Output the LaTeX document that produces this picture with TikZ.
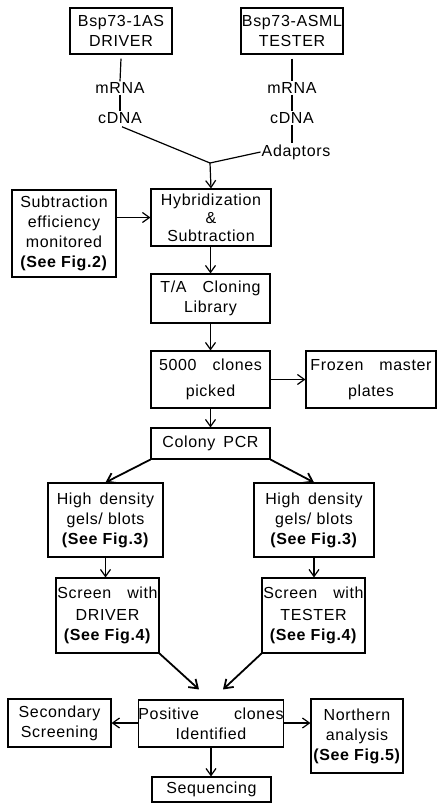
\documentclass[tikz,border=0pt]{standalone}
\usepackage{fontspec}
\setmainfont[LetterSpace=4]{Liberation Sans}
\usetikzlibrary{arrows.meta,calc}
\begin{document}
\begin{tikzpicture}[x=1pt,y=-1pt,
  box/.style={draw, line width=1.1pt, align=center, inner sep=0pt, font=\fontsize{16}{20}\selectfont},
  lbl/.style={inner sep=1pt, font=\fontsize{16}{20}\selectfont},
  arr/.style={line width=1.2pt, -{Straight Barb[length=7pt,width=10pt]}},
  ln/.style={line width=1.2pt},
  thick arr/.style={line width=1.8pt, -{Straight Barb[length=8pt,width=11pt]}}]
\useasboundingbox (0,0) rectangle (438,803);
% boxes
\node[box, minimum width=102pt, minimum height=46pt] (driver) at (121,31) {Bsp73-1AS\\DRIVER};
\node[box, minimum width=102pt, minimum height=46pt] (tester) at (292,31) {Bsp73-ASML\\TESTER};
\node[box, minimum width=120pt, minimum height=57pt] (hyb) at (211,217.5) {Hybridization\\[-2pt]\&\\[-2pt]Subtraction};
\node[box, minimum width=104pt, minimum height=87pt] (subeff) at (64,233.5) {Subtraction\\efficiency\\monitored\\\textbf{(See Fig.2)}};
\node[box, minimum width=119pt, minimum height=49pt] (ta) at (210.5,298.5) {T/A\quad Cloning\\Library};
\node[box, minimum width=119pt, minimum height=57pt] (clones) at (210.5,379.5) {5000\quad clones\\[6pt]picked};
\node[box, minimum width=130pt, minimum height=57pt] (frozen) at (371,379.5) {Frozen\quad master\\[6pt]plates};
\node[box, minimum width=119pt, minimum height=31pt] (pcr) at (210.5,443.5) {Colony\enspace PCR};
\node[box, minimum width=115pt, minimum height=74pt] (hdl) at (105.5,520) {High\enspace density\\gels/ blots\\\textbf{(See Fig.3)}};
\node[box, minimum width=120pt, minimum height=74pt] (hdr) at (314,520) {High\enspace density\\gels/ blots\\\textbf{(See Fig.3)}};
\node[box, minimum width=103pt, minimum height=75pt] (scl) at (107.5,615.5) {Screen\quad with\\[2pt]DRIVER\\\textbf{(See Fig.4)}};
\node[box, minimum width=103pt, minimum height=75pt] (scr) at (313.5,615.5) {Screen\quad with\\[2pt]TESTER\\\textbf{(See Fig.4)}};
\node[box, minimum width=134pt, minimum height=47pt] (pos) at (211,723.5) {Positive\hspace{2.2em}clones\\Identified};
\node[box, minimum width=103pt, minimum height=48pt] (sec) at (59.5,723) {Secondary\\Screening};
\node[box, minimum width=92pt, minimum height=74pt] (north) at (357,736) {Northern\\analysis\\\textbf{(See Fig.5)}};
\node[box, minimum width=119pt, minimum height=25pt] (seq) at (211.5,789.5) {Sequencing};
% labels
\node[lbl] (m1) at (120,88) {mRNA};
\node[lbl] (c1) at (120,118) {cDNA};
\node[lbl] (m2) at (292,88) {mRNA};
\node[lbl] (c2) at (292,118) {cDNA};
\node[lbl] (ad) at (296,152) {Adaptors};
\coordinate (J) at (210,163);
% connectors
\draw[ln] ($(driver.south)+(0,4)$) -- (m1.north);
\draw[ln] (m1.south) -- (c1.north);
\draw[ln] ($(tester.south)+(0,4)$) -- (m2.north);
\draw[ln] (m2.south) -- (c2.north);
\draw[ln] (c2.south) -- (c2.south |- ad.north);
\draw[ln] ($(c1.south)+(2,2)$) -- (J);
\draw[ln] (ad.west) -- (J);
\draw[arr] (J) -- (hyb.north);
\draw[arr] (subeff.east |- hyb) -- (hyb.west);
\draw[arr] (hyb.south -| ta.north) -- (ta.north);
\draw[arr] (ta.south) -- (clones.north);
\draw[arr] (clones.east) -- (frozen.west);
\draw[arr] (clones.south) -- (pcr.north);
\draw[thick arr] (pcr.south west) -- (hdl.north);
\draw[thick arr] (pcr.south east) -- (hdr.north);
\draw[arr] (hdl.south) -- (hdl.south |- scl.north);
\draw[arr] (hdr.south) -- (hdr.south |- scr.north);
\draw[thick arr] (scl.south east) -- ($(pos.north)+(-12,-10)$);
\draw[thick arr] (scr.south west) -- ($(pos.north)+(12,-10)$);
\draw[arr] (pos.west |- sec) -- (sec.east);
\draw[arr] (pos.east |- sec) -- (north.west |- sec);
\draw[arr] (pos.south) -- (pos.south |- seq.north);
\end{tikzpicture}
\end{document}
